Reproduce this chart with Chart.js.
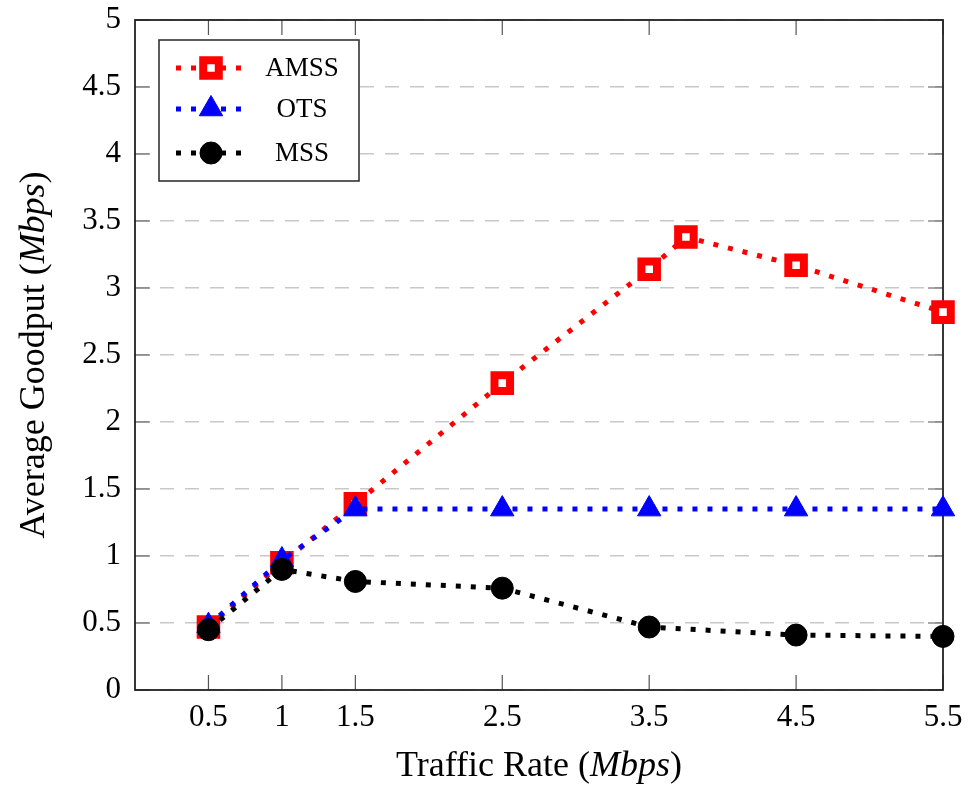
<!DOCTYPE html>
<html>
<head>
<meta charset="utf-8">
<script src="https://cdn.jsdelivr.net/npm/chart.js@4.4.1/dist/chart.umd.min.js"></script>
<style>
html,body{margin:0;padding:0;background:#fff;}
#wrap{width:972px;height:789px;position:relative;}
</style>
</head>
<body>
<div id="wrap"><canvas id="c" width="972" height="789"></canvas></div>
<script>
const xTicks = [0.5, 1, 1.5, 2.5, 3.5, 4.5, 5.5];
const amssX = [0.5, 1, 1.5, 2.5, 3.5, 3.75, 4.5, 5.5];
const amssY = [0.47, 0.95, 1.39, 2.29, 3.14, 3.38, 3.17, 2.82];
const otsX = [0.5, 1, 1.5, 2.5, 3.5, 4.5, 5.5];
const otsY = [0.48, 0.97, 1.35, 1.35, 1.35, 1.35, 1.35];
const mssX = [0.5, 1, 1.5, 2.5, 3.5, 4.5, 5.5];
const mssY = [0.45, 0.90, 0.81, 0.76, 0.47, 0.41, 0.40];
const seriesNames = ['AMSS', 'OTS', 'MSS'];
const xTitle = ['Traffic Rate (', 'Mbps', ')'];
const yTitle = ['Average Goodput (', 'Mbps', ')'];

const FONT = '"Liberation Serif", "DejaVu Serif", serif';
const pts = (xs, ys) => xs.map((x, i) => ({x: x, y: ys[i]}));

const styles = [
  {color: '#ff0000', pointStyle: 'rect', radius: 11, bg: '#ffffff', bw: 8},
  {color: '#0000ff', pointStyle: 'triangle', radius: 13.5, bg: '#0000ff', bw: 1},
  {color: '#000000', pointStyle: 'circle', radius: 11, bg: '#000000', bw: 1}
];
const datas = [pts(amssX, amssY), pts(otsX, otsY), pts(mssX, mssY)];

const datasets = datas.map((d, i) => ({
  label: seriesNames[i],
  data: d,
  borderColor: styles[i].color,
  backgroundColor: styles[i].color,
  borderWidth: 5,
  borderDash: [5, 10],
  borderCapStyle: 'butt',
  pointStyle: styles[i].pointStyle,
  pointRadius: styles[i].radius,
  pointHoverRadius: styles[i].radius,
  pointBackgroundColor: styles[i].bg,
  pointBorderColor: styles[i].color,
  pointBorderWidth: styles[i].bw,
  tension: 0,
  clip: false
}));
datasets[0].order = 2; datasets[1].order = 1; datasets[2].order = 0;

function mixedText(ctx, parts, cx, cy, size) {
  const fonts = [size + 'px ' + FONT, 'italic ' + size + 'px ' + FONT, size + 'px ' + FONT];
  let widths = parts.map((p, i) => { ctx.font = fonts[i]; return ctx.measureText(p).width; });
  let total = widths.reduce((a, b) => a + b, 0);
  let x = cx - total / 2;
  ctx.textBaseline = 'middle';
  ctx.textAlign = 'left';
  parts.forEach((p, i) => { ctx.font = fonts[i]; ctx.fillText(p, x, cy); x += widths[i]; });
}

const framePlugin = {
  id: 'frame',
  beforeDatasetsDraw(chart) {
    const {ctx, chartArea: a, scales} = chart;
    ctx.save();
    ctx.strokeStyle = '#555555';
    ctx.lineWidth = 1.2;
    xTicks.forEach(v => {
      const px = scales.x.getPixelForValue(v);
      ctx.beginPath();
      ctx.moveTo(px, a.bottom); ctx.lineTo(px, a.bottom - 15);
      ctx.moveTo(px, a.top); ctx.lineTo(px, a.top + 15);
      ctx.stroke();
    });
    scales.y.ticks.forEach(t => {
      const py = scales.y.getPixelForValue(t.value);
      ctx.beginPath();
      ctx.moveTo(a.left, py); ctx.lineTo(a.left + 15, py);
      ctx.moveTo(a.right, py); ctx.lineTo(a.right - 15, py);
      ctx.stroke();
    });
    ctx.strokeStyle = '#222222';
    ctx.lineWidth = 1.8;
    ctx.strokeRect(a.left, a.top, a.right - a.left, a.bottom - a.top);
    ctx.restore();
  },
  afterDatasetsDraw(chart) {
    const {ctx, chartArea: a} = chart;
    ctx.save();
    const bx = 159, by = 40, bw = 200, bh = 141;
    ctx.fillStyle = '#ffffff';
    ctx.fillRect(bx, by, bw, bh);
    ctx.strokeStyle = '#333333';
    ctx.lineWidth = 1.6;
    ctx.strokeRect(bx, by, bw, bh);
    const rows = [68, 109, 153];
    seriesNames.forEach((name, i) => {
      const y = rows[i];
      const s = styles[i];
      ctx.strokeStyle = s.color;
      ctx.lineWidth = 5;
      ctx.setLineDash([5, 10]);
      ctx.beginPath();
      ctx.moveTo(176, y); ctx.lineTo(246, y);
      ctx.stroke();
      ctx.setLineDash([]);
      ctx.fillStyle = s.bg;
      ctx.strokeStyle = s.color;
      ctx.lineWidth = s.bw;
      ctx.beginPath();
      if (s.pointStyle === 'rect') {
        const h = s.radius * Math.SQRT1_2;
        ctx.rect(211 - h, y - h, 2 * h, 2 * h);
      } else if (s.pointStyle === 'triangle') {
        let r = s.radius, ang = -Math.PI / 2;
        ctx.moveTo(211 + Math.cos(ang) * r, y + Math.sin(ang) * r);
        for (let k = 1; k < 3; k++) { ang += 2 * Math.PI / 3; ctx.lineTo(211 + Math.cos(ang) * r, y + Math.sin(ang) * r); }
        ctx.closePath();
      } else {
        ctx.arc(211, y, s.radius, 0, Math.PI * 2);
      }
      ctx.fill(); ctx.stroke();
      ctx.fillStyle = '#000000';
      ctx.font = '27px ' + FONT;
      ctx.textAlign = 'center';
      ctx.textBaseline = 'middle';
      ctx.fillText(name, 302, y + 1);
    });
    ctx.fillStyle = '#000000';
    mixedText(ctx, xTitle, (a.left + a.right) / 2, 767, 36);
    ctx.translate(35, (a.top + a.bottom) / 2);
    ctx.rotate(-Math.PI / 2);
    mixedText(ctx, yTitle, 0, 0, 36);
    ctx.restore();
  }
};

new Chart(document.getElementById('c'), {
  type: 'line',
  data: {datasets: datasets},
  options: {
    responsive: false,
    animation: false,
    layout: {padding: {top: 20, right: 29, bottom: 0, left: 0}},
    plugins: {legend: {display: false}, tooltip: {enabled: false}},
    scales: {
      x: {
        type: 'linear',
        min: 0, max: 5.5,
        afterBuildTicks: s => { s.ticks = xTicks.map(v => ({value: v})); },
        afterFit: s => { s.height = 99; s.paddingLeft = 0; s.paddingRight = 0; },
        grid: {display: false, drawTicks: false},
        border: {display: false},
        ticks: {
          padding: 9,
          color: '#000',
          font: {family: FONT, size: 31},
          callback: v => String(v),
          maxRotation: 0,
          autoSkip: false
        }
      },
      y: {
        type: 'linear',
        min: 0, max: 5,
        afterFit: s => { s.width = 135; s.paddingTop = 0; s.paddingBottom = 0; },
        grid: {color: '#c8c8c8', lineWidth: 1.5, drawTicks: false},
        border: {display: false, dash: [14, 11]},
        ticks: {
          stepSize: 0.5,
          padding: 14,
          color: '#000',
          font: {family: FONT, size: 31},
          callback: v => String(v)
        }
      }
    }
  },
  plugins: [framePlugin]
});
</script>
</body>
</html>
